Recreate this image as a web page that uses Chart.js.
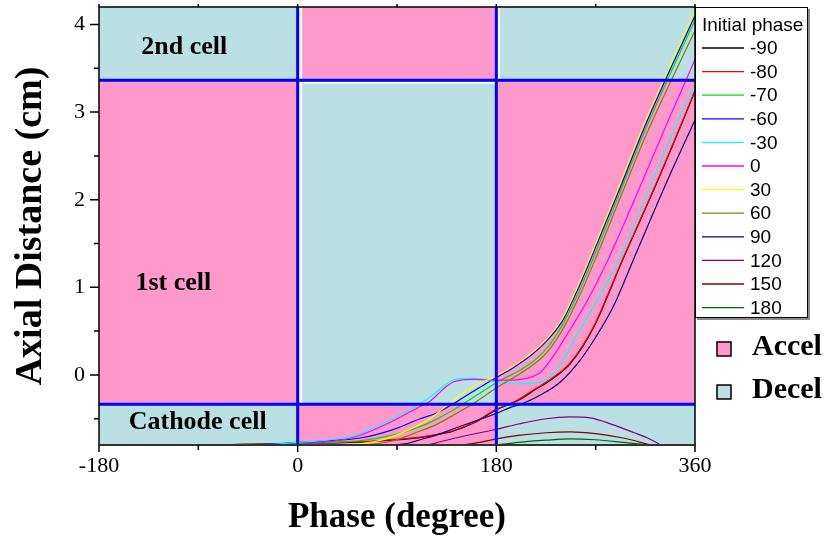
<!DOCTYPE html>
<html>
<head>
<meta charset="utf-8">
<script src="https://cdn.jsdelivr.net/npm/chart.js@4.4.1/dist/chart.umd.min.js"></script>
<style>
  html, body { margin: 0; padding: 0; background: #fff; }
  canvas { display: block; }
</style>
</head>
<body>
<canvas id="c" width="832" height="539"></canvas>
<script>
// ---- data ------------------------------------------------------------
// initial RF phase of each tracked electron (degrees)
const initialPhases = [-90, -80, -70, -60, -30, 0, 30, 60, 90, 120, 150, 180];

// trajectories: [phase (degree), axial distance (cm)]
const trajM90 = [[-90,-0.80],[-60,-0.795],[-30,-0.79],[0,-0.785],[30,-0.775],[60,-0.765],[85,-0.745],[111,-0.715],[125,-0.685],[140,-0.645],[160,-0.545],[180,-0.40],[192,-0.335],[200,-0.29],[215,-0.17],[229,-0.06],[247,0.13],[268,0.54],[294,1.30],[326,2.21],[349,2.90],[360,3.24]];
const trajM80 = [[-80,-0.80],[-40,-0.79],[0,-0.78],[30,-0.77],[60,-0.76],[85,-0.74],[111,-0.71],[125,-0.68],[140,-0.64],[160,-0.54],[180,-0.39],[192,-0.33],[200,-0.28],[215,-0.16],[229,-0.05],[247,0.14],[268,0.55],[294,1.31],[326,2.22],[349,2.91],[360,3.25]];
const trajM70 = [[-70,-0.80],[-30,-0.79],[0,-0.78],[30,-0.77],[57,-0.75],[85,-0.69],[111,-0.59],[125,-0.51],[141,-0.40],[160,-0.25],[180,-0.09],[202,0.06],[215,0.17],[228,0.34],[242,0.62],[256,0.98],[270,1.40],[290,2.02],[315,2.80],[338,3.45],[360,4.05]];
const trajM60 = [[-60,-0.80],[-30,-0.79],[0,-0.77],[30,-0.75],[57,-0.72],[85,-0.63],[111,-0.50],[125,-0.44],[141,-0.33],[160,-0.18],[180,-0.03],[195,0.08],[210,0.21],[225,0.38],[240,0.62],[255,1.01],[270,1.46],[290,2.07],[315,2.85],[338,3.50],[360,4.10]];
const trajM30 = [[-30,-0.80],[0,-0.77],[30,-0.74],[54,-0.68],[84,-0.51],[111,-0.33],[120,-0.25],[127,-0.18],[135,-0.10],[141,-0.06],[150,-0.04],[160,-0.04],[180,-0.08],[202,-0.10],[220,-0.08],[236,0.08],[254,0.48],[272,0.86],[284,1.14],[291,1.31],[345,2.91],[360,3.31]];
const traj0   = [[0,-0.80],[30,-0.76],[54,-0.70],[84,-0.54],[111,-0.36],[120,-0.30],[127,-0.22],[135,-0.13],[141,-0.08],[150,-0.055],[160,-0.05],[180,-0.06],[202,-0.05],[220,0.03],[233,0.24],[245,0.48],[263,0.86],[281,1.31],[336,2.91],[360,3.60]];
const traj30  = [[30,-0.80],[60,-0.78],[80,-0.73],[100,-0.63],[120,-0.50],[137,-0.33],[157,-0.15],[180,-0.01],[195,0.10],[210,0.23],[225,0.40],[240,0.65],[255,1.05],[270,1.50],[290,2.12],[315,2.90],[338,3.55],[360,4.16]];
const traj60  = [[60,-0.80],[75,-0.78],[90,-0.74],[111,-0.64],[125,-0.57],[141,-0.46],[160,-0.32],[180,-0.15],[202,0.02],[215,0.13],[228,0.29],[242,0.56],[256,0.92],[270,1.33],[290,1.95],[315,2.72],[338,3.35],[360,3.93]];
const traj90  = [[90,-0.80],[100,-0.78],[111,-0.74],[125,-0.69],[140,-0.62],[160,-0.53],[180,-0.44],[193,-0.37],[205,-0.32],[220,-0.23],[238,-0.08],[256,0.17],[270,0.43],[286,0.78],[304,1.31],[335,2.22],[360,2.91]];
const traj120 = [[118,-0.80],[130,-0.76],[150,-0.70],[180,-0.62],[200,-0.56],[225,-0.50],[247,-0.48],[265,-0.49],[286,-0.57],[305,-0.66],[317,-0.72],[329,-0.80]];
const traj150 = [[150,-0.80],[165,-0.77],[180,-0.73],[200,-0.69],[225,-0.66],[247,-0.65],[270,-0.67],[295,-0.72],[320,-0.80]];
const traj180 = [[180,-0.80],[200,-0.77],[225,-0.745],[247,-0.73],[270,-0.74],[295,-0.77],[318,-0.80]];

// cell boundaries (cm) and phase boundaries of the field regions (degree)
const cellEdges  = [-0.335, 3.365];
const phaseEdges = [0, 180];

// axis ranges and labelled ticks
const xRange = [-180, 360];
const yRange = [-0.8, 4.2];
const xTicks = [-180, 0, 180, 360];
const xMinorTicks = [-90, 90, 270];
const yTicks = [0, 1, 2, 3, 4];
const yMinorTicks = [-0.5, 0.5, 1.5, 2.5, 3.5];

// ---- styling ---------------------------------------------------------
const trajectories = [trajM90, trajM80, trajM70, trajM60, trajM30, traj0, traj30, traj60, traj90, traj120, traj150, traj180];
const seriesColors = ['#000000', '#FF0000', '#00DD00', '#0000FF', '#00FFFF', '#FF00FF', '#FFFF00', '#808000', '#000080', '#800080', '#800000', '#006600'];
const ACCEL = '#FF99CC';
const DECEL = '#BBE0E3';
const SERIF = '"Liberation Serif", "Times New Roman", serif';
const SANS = '"Liberation Sans", Arial, sans-serif';

// checkerboard of accelerating / decelerating field regions
const regionPlugin = {
  id: 'regions',
  beforeDatasetsDraw(chart) {
    const { ctx, scales: { x, y } } = chart;
    const xs = [x.min, ...phaseEdges, x.max].map(v => x.getPixelForValue(v));
    const ys = [y.min, ...cellEdges, y.max].map(v => y.getPixelForValue(v));
    ctx.save();
    for (let i = 0; i < 3; i++) {
      for (let j = 0; j < 3; j++) {
        ctx.fillStyle = (i + j) % 2 === 1 ? ACCEL : DECEL;
        ctx.fillRect(xs[i], ys[j + 1], xs[i + 1] - xs[i], ys[j] - ys[j + 1]);
      }
    }
    ctx.restore();
  },
  afterDatasetsDraw(chart) {
    const { ctx, chartArea: a, scales: { x, y } } = chart;
    const x0 = x.getPixelForValue(phaseEdges[0]);
    const x1 = x.getPixelForValue(phaseEdges[1]);
    const yLow = y.getPixelForValue(cellEdges[0]);
    const yHigh = y.getPixelForValue(cellEdges[1]);
    ctx.save();
    // thin white seams beside the boundaries
    ctx.fillStyle = '#FFFFFF';
    ctx.fillRect(x0 + 1.5, a.top, 3, yLow - a.top);
    ctx.fillRect(x1 + 1.5, a.top, 2, yHigh - a.top);
    ctx.fillRect(x0, yHigh + 1.5, x1 - x0, 2);
    // blue cell / phase boundaries
    ctx.strokeStyle = '#0000FF';
    ctx.lineWidth = 3;
    ctx.beginPath();
    [x0, x1].forEach(px => { ctx.moveTo(px, a.top); ctx.lineTo(px, a.bottom); });
    [yLow, yHigh].forEach(py => { ctx.moveTo(a.left, py); ctx.lineTo(a.right, py); });
    ctx.stroke();
    // cell names
    ctx.fillStyle = '#000';
    ctx.font = 'bold 26px ' + SERIF;
    ctx.textAlign = 'center';
    ctx.textBaseline = 'middle';
    ctx.fillText('2nd cell', x.getPixelForValue(-102.8), y.getPixelForValue(3.74));
    ctx.fillText('1st cell', x.getPixelForValue(-112.7), y.getPixelForValue(1.05));
    ctx.fillText('Cathode cell', x.getPixelForValue(-90.6), y.getPixelForValue(-0.54));
    ctx.restore();
  }
};

// plot frame, tick marks and the two legends
const framePlugin = {
  id: 'frame',
  afterDraw(chart) {
    const { ctx, chartArea: a, scales: { x, y } } = chart;
    ctx.save();
    ctx.strokeStyle = '#000';
    ctx.lineWidth = 1.5;
    ctx.strokeRect(a.left, a.top, a.right - a.left, a.bottom - a.top);
    ctx.strokeStyle = '#333';
    ctx.lineWidth = 2;
    ctx.beginPath();
    ctx.moveTo(a.left, a.bottom); ctx.lineTo(a.right, a.bottom);
    ctx.stroke();
    ctx.strokeStyle = '#000';
    ctx.lineWidth = 1.5;
    ctx.beginPath();
    xTicks.forEach(v => { const p = x.getPixelForValue(v); ctx.moveTo(p, a.bottom); ctx.lineTo(p, a.bottom + 7); ctx.moveTo(p, a.top); ctx.lineTo(p, a.top - 3); });
    xMinorTicks.forEach(v => { const p = x.getPixelForValue(v); ctx.moveTo(p, a.bottom); ctx.lineTo(p, a.bottom + 5); ctx.moveTo(p, a.top); ctx.lineTo(p, a.top - 3); });
    yTicks.forEach(v => { const p = y.getPixelForValue(v); ctx.moveTo(a.left, p); ctx.lineTo(a.left - 9, p); });
    yMinorTicks.forEach(v => { const p = y.getPixelForValue(v); ctx.moveTo(a.left, p); ctx.lineTo(a.left - 5, p); });
    ctx.stroke();

    // series legend
    const bx = a.right, by = a.top, bw = 113, bh = 311;
    ctx.fillStyle = '#8a8a8a';
    ctx.fillRect(bx + 2, by + 2, bw, bh);
    ctx.fillStyle = '#fff';
    ctx.fillRect(bx, by, bw, bh);
    ctx.strokeStyle = '#000';
    ctx.lineWidth = 1;
    ctx.strokeRect(bx + 0.5, by + 0.5, bw - 1, bh - 1);
    ctx.fillStyle = '#000';
    ctx.font = '19px ' + SANS;
    ctx.textAlign = 'left';
    ctx.textBaseline = 'middle';
    ctx.fillText('Initial phase', bx + 7, by + 19);
    chart.data.datasets.forEach((ds, i) => {
      const ry = by + 41 + i * 23.6;
      ctx.strokeStyle = ds.borderColor;
      ctx.lineWidth = 1.3;
      ctx.beginPath();
      ctx.moveTo(bx + 7, ry); ctx.lineTo(bx + 49, ry);
      ctx.stroke();
      ctx.fillText(ds.label, bx + 55, ry + 1);
    });

    // field-region key
    const keys = [['Accel', ACCEL, 342], ['Decel', DECEL, 385]];
    keys.forEach(([name, col, ky]) => {
      ctx.fillStyle = col;
      ctx.fillRect(717, ky, 14, 14);
      ctx.strokeStyle = '#000';
      ctx.lineWidth = 1.5;
      ctx.strokeRect(717, ky, 14, 14);
      ctx.fillStyle = '#000';
      ctx.font = 'bold 30px ' + SERIF;
      ctx.textBaseline = 'alphabetic';
      ctx.fillText(name, 752, ky + 13);
    });
    ctx.restore();
  }
};

const datasets = initialPhases.map((p, i) => ({
  label: String(p),
  data: trajectories[i].map(([px, pz]) => ({ x: px, y: pz })),
  borderColor: seriesColors[i],
  backgroundColor: seriesColors[i],
  borderWidth: 1.2,
  pointRadius: 0,
  showLine: true,
  fill: false,
  cubicInterpolationMode: 'monotone',
  order: initialPhases.length - i
}));

new Chart(document.getElementById('c'), {
  type: 'scatter',
  data: { datasets },
  options: {
    responsive: false,
    animation: false,
    devicePixelRatio: 1,
    layout: { padding: { left: 0, right: 137, top: 7, bottom: 0 } },
    plugins: { legend: { display: false }, tooltip: { enabled: false } },
    scales: {
      x: {
        type: 'linear',
        min: xRange[0], max: xRange[1],
        afterBuildTicks: s => { s.ticks = xTicks.map(v => ({ value: v })); },
        afterFit: s => { s.height = 94; s.paddingLeft = 0; s.paddingRight = 0; },
        grid: { display: false, drawTicks: false },
        border: { display: false },
        ticks: { padding: 8, color: '#000', maxRotation: 0, autoSkip: false,
                 font: { family: SERIF, size: 22 }, callback: v => String(v) },
        title: { display: true, text: 'Phase (degree)', color: '#000',
                 font: { family: SERIF, size: 35, weight: 'bold' }, padding: { top: 0, bottom: 0 } }
      },
      y: {
        type: 'linear',
        min: yRange[0], max: yRange[1],
        afterBuildTicks: s => { s.ticks = yTicks.map(v => ({ value: v })); },
        afterFit: s => { s.width = 99; s.paddingTop = 0; s.paddingBottom = 0; },
        grid: { display: false, drawTicks: false },
        border: { display: false },
        ticks: { padding: 14, color: '#000', autoSkip: false,
                 font: { family: SERIF, size: 22 }, callback: v => String(v) },
        title: { display: true, text: 'Axial Distance (cm)', color: '#000',
                 font: { family: SERIF, size: 38, weight: 'bold' }, padding: { top: 8, bottom: 0 } }
      }
    }
  },
  plugins: [regionPlugin, framePlugin]
});
</script>
</body>
</html>
